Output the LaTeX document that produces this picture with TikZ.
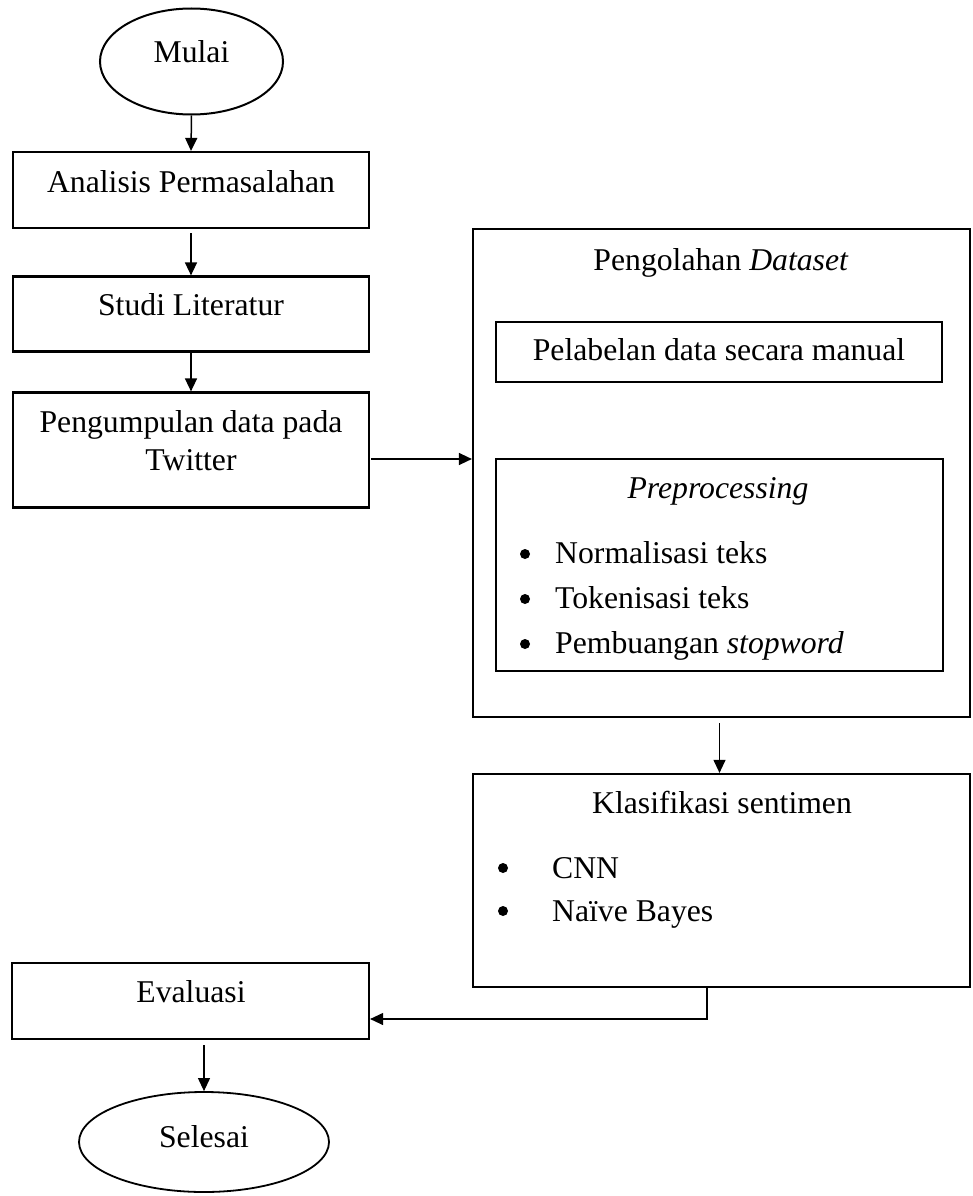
\documentclass[tikz,border=0pt]{standalone}
\usepackage{fontspec}
\setmainfont{Liberation Serif}
\usetikzlibrary{shapes.geometric,arrows.meta}
\begin{document}
\begin{tikzpicture}[x=1pt,y=-1pt,
  every node/.style={font=\fontsize{31.7}{39}\selectfont, inner sep=0pt},
  box/.style={draw, line width=2.2pt, rectangle},
  oval/.style={draw, line width=2pt, ellipse},
  txt/.style={anchor=base},
  item/.style={anchor=base west},
  dot/.style={circle, fill, minimum size=10pt},
  arr/.style={line width=1.5pt, -{Triangle[length=13pt,width=12pt]}},
  arrthin/.style={line width=1.1pt, -{Triangle[length=13pt,width=12pt]}}
]
\useasboundingbox (0,0) rectangle (972,1196);
% shapes
\node[oval, minimum width=183pt, minimum height=106pt] (mulai) at (191.5,61.5) {};
\node[box, minimum width=356pt, minimum height=76pt] (anal) at (191,190) {};
\node[box, minimum width=356pt, minimum height=75pt] (studi) at (191,314) {};
\node[box, minimum width=356pt, minimum height=115pt] (peng) at (191,450) {};
\node[box, minimum width=497pt, minimum height=488pt] (olah) at (721.5,473) {};
\node[box, minimum width=446pt, minimum height=60pt] (label) at (719,352) {};
\node[box, minimum width=447pt, minimum height=212pt] (prep) at (719.5,565) {};
\node[box, minimum width=497pt, minimum height=213pt] (klas) at (721.5,880.5) {};
\node[box, minimum width=357pt, minimum height=76pt] (eval) at (190.5,1001) {};
\node[oval, line width=1.8pt, minimum width=250pt, minimum height=100pt] (selesai) at (204,1142) {};
% texts
\node[txt] (tmulai) at (191.5,63) {Mulai};
\node[txt] (tanal) at (191,192) {Analisis Permasalahan};
\node[txt] (tstudi) at (191,315) {Studi Literatur};
\node[txt] (tpeng1) at (191,432) {Pengumpulan data pada};
\node[txt] (tpeng2) at (191,470) {Twitter};
\node[txt] (tolah) at (721,270) {Pengolahan \textit{Dataset}};
\node[txt] (tlabel) at (719,360) {Pelabelan data secara manual};
\node[txt] (tprep) at (718,498) {\textit{Preprocessing}};
\node[dot] (d1) at (525,554) {};
\node[dot] (d2) at (525,599) {};
\node[dot] (d3) at (525,644) {};
\node[item] (b1) at (555,563) {Normalisasi teks};
\node[item] (b2) at (555,608) {Tokenisasi teks};
\node[item] (b3) at (555,653) {Pembuangan \textit{stopword}};
\node[txt] (tklas) at (722,813) {Klasifikasi sentimen};
\node[dot] (d4) at (503,868) {};
\node[dot] (d5) at (503,911) {};
\node[item] (c1) at (552,878) {CNN};
\node[item] (c2) at (552,921) {Naïve Bayes};
\node[txt] (teval) at (191,1002) {Evaluasi};
\node[txt] (tsel) at (204,1147) {Selesai};
% connectors
\draw[arr] (mulai.south) -- (anal.north);
\draw[arr, shorten <=4pt] (anal.south) -- (studi.north);
\draw[arr] (studi.south) -- (peng.north);
\draw[arr, shorten <=1pt] ([yshift=-9pt]peng.east) -- ([yshift=-9pt]peng.east -| olah.west);
\draw[arrthin, shorten <=5pt] ([xshift=-2pt]olah.south) -- ([xshift=-2pt]klas.north);
\draw[arrthin] ([xshift=-14.5pt]klas.south) |- ([yshift=-18pt]eval.east);
\draw[arrthin, shorten <=5pt] (eval.south -| selesai.north) -- (selesai.north);
\end{tikzpicture}
\end{document}
